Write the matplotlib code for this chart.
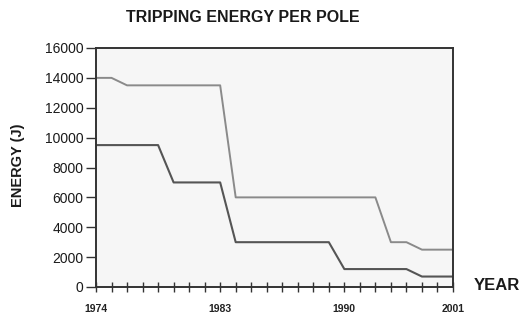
import numpy as np
import matplotlib.pyplot as plt

plt.rcParams['font.family'] = ['Liberation Sans', 'DejaVu Sans']

# category positions along the x axis (24 ticks), labelled only at a few
n_ticks = 24
year_pos = [0, 8, 16, 23]
year_labels = ['1974', '1983', '1990', '2001']

# upper curve: (position, energy J)
upper_x = [0, 1, 2, 8, 9, 18, 19, 20, 21, 23]
upper_y = [14000, 14000, 13500, 13500, 6000, 6000, 3000, 3000, 2500, 2500]

# lower curve
lower_x = [0, 4, 5, 8, 9, 15, 16, 20, 21, 23]
lower_y = [9500, 9500, 7000, 7000, 3000, 3000, 1200, 1200, 700, 700]

yticks = np.arange(0, 16001, 2000)

fig = plt.figure(figsize=(5.26, 3.21), dpi=100)
ax = fig.add_axes([96/526, 1-287/321, (453-96)/526, (287-48)/321])
ax.set_facecolor('#f6f6f6')

ax.plot(upper_x, upper_y, color='#8a8a8a', lw=1.4)
ax.plot(lower_x, lower_y, color='#555555', lw=1.5)

ax.set_xlim(0, n_ticks - 1)
ax.set_ylim(0, 16000)
ax.set_xticks(range(n_ticks))
ax.set_xticklabels(['' for i in range(n_ticks)])
for p, lab in zip(year_pos, year_labels):
    ax.text(p, -1450, lab, ha='center', va='center', fontsize=7.5,
            fontweight='bold', color='#222222')
ax.tick_params(axis='x', direction='inout', length=7, width=1, color='#333333')
ax.set_yticks(yticks)
ax.set_yticklabels([str(v) for v in yticks], fontsize=10, color='#1a1a1a')
ax.tick_params(axis='y', direction='out', length=7, width=1, color='#333333', pad=2)

for s in ax.spines.values():
    s.set_color('#333333')
    s.set_linewidth(1.4)

fig.text(243/526, 1-18/321, 'TRIPPING ENERGY PER POLE', ha='center', va='center',
         fontsize=11.5, fontweight='bold', color='#1a1a1a')
fig.text(18/526, 1-165/321, 'ENERGY (J)', ha='center', va='center', rotation=90,
         fontsize=10.5, fontweight='bold', color='#1a1a1a')
fig.text(497/526, 1-285/321, 'YEAR', ha='center', va='center',
         fontsize=12, fontweight='bold', color='#1a1a1a')

fig.savefig('out.png', dpi=100)
